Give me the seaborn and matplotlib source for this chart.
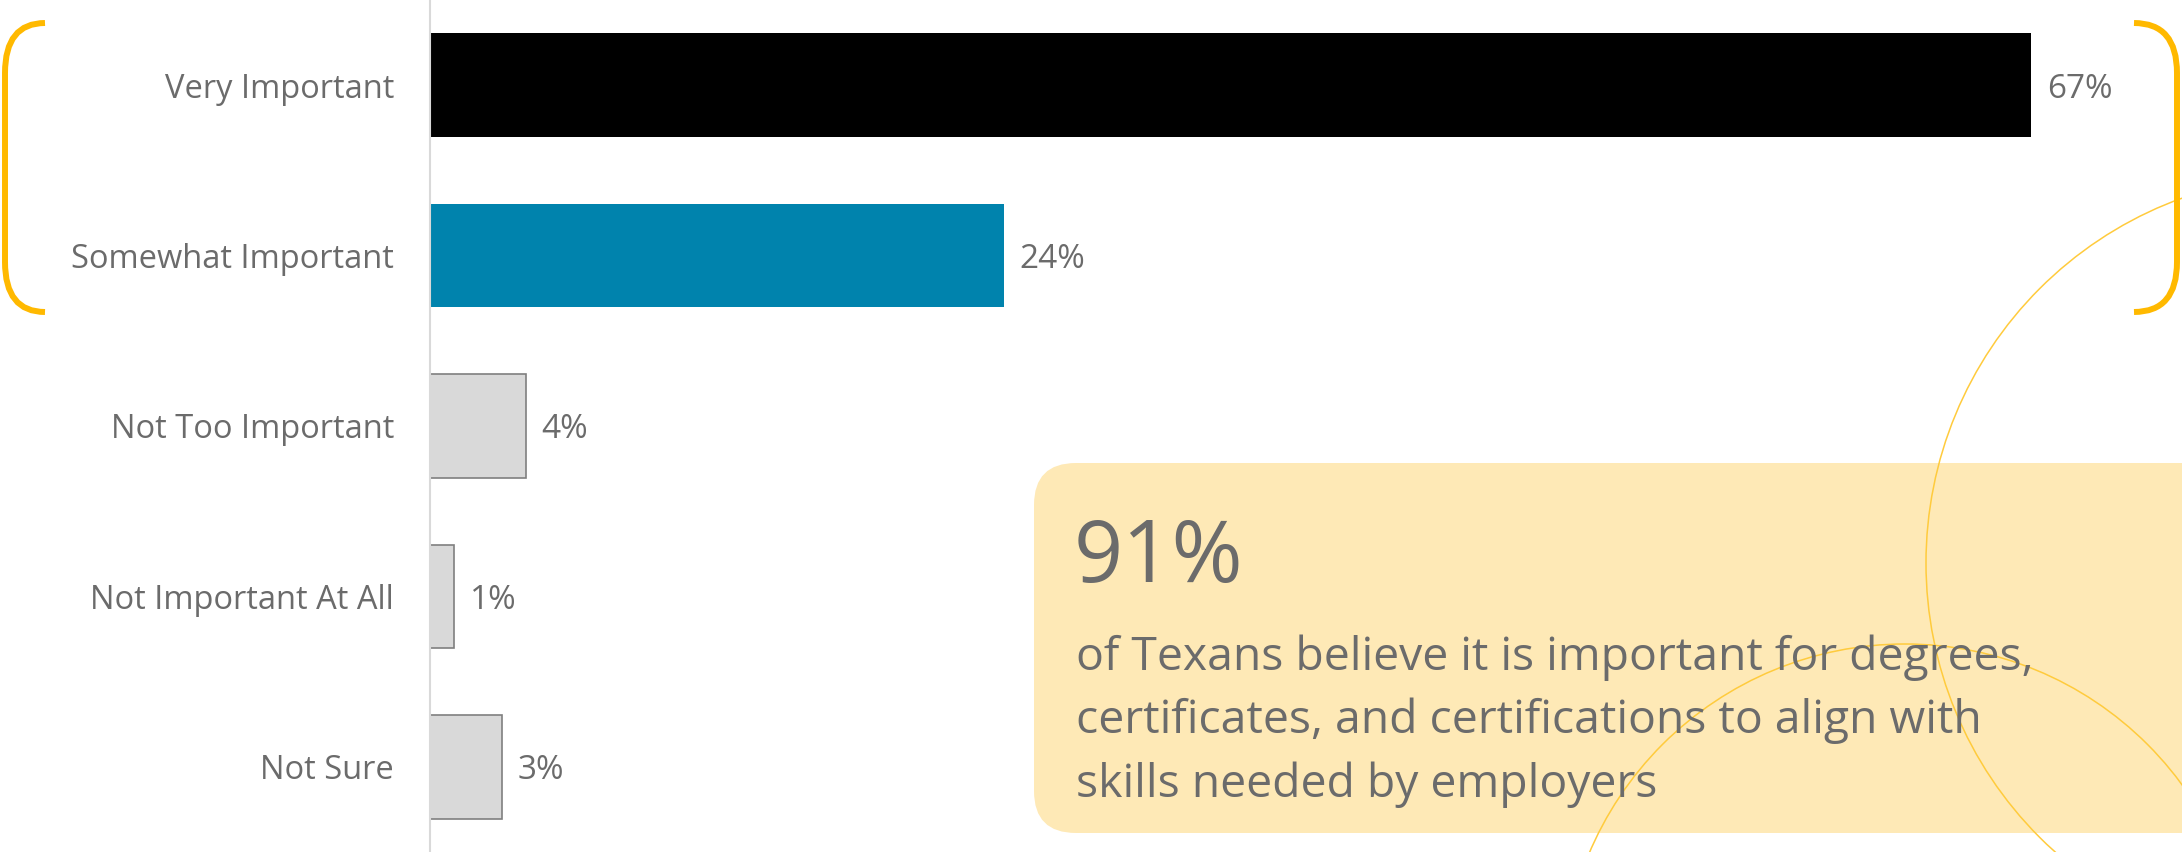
#!/usr/bin/env python3

import numpy as np
import pandas as pd
import matplotlib
matplotlib.use('Agg')
import matplotlib.pyplot as plt
from matplotlib.patches import FancyBboxPatch, Circle, PathPatch
from matplotlib.path import Path
import seaborn as sns

# data
categories = ['Very Important', 'Somewhat Important', 'Not Too Important',
              'Not Important At All', 'Not Sure']
values = [67, 24, 4, 1, 3]
bar_colors = ['#000000', '#0083AD', '#D9D9D9', '#D9D9D9', '#D9D9D9']
callout_big = '91%'
callout_lines = ['of Texans believe it is important for degrees,',
                 'certificates, and certifications to align with',
                 'skills needed by employers']

TEXT_GRAY = '#6b6b6b'
GOLD = '#FFB900'

sns.set_theme(style='white')
plt.rcParams['font.family'] = ['Open Sans', 'DejaVu Sans']

W, H = 2182, 852
fig = plt.figure(figsize=(W / 100, H / 100), dpi=100)
fig.patch.set_facecolor('white')

# main bar axes: left spine at x=430px, full height
ax = fig.add_axes([430 / W, 0, (W - 430) / W, 1])
df = pd.DataFrame({'cat': categories, 'val': values})
sns.barplot(data=df, x='val', y='cat', hue='cat', palette=bar_colors,
            legend=False, width=0.608, ax=ax, orient='h', saturation=1)

for patch, col in zip(ax.patches, bar_colors):
    if col == '#D9D9D9':
        patch.set_edgecolor('#7f7f7f')
        patch.set_linewidth(1.2)
    else:
        patch.set_edgecolor('none')

for cont in ax.containers:
    lbls = ax.bar_label(cont, labels=[f'{v:g}%' for v in cont.datavalues],
                        padding=11.5, fontsize=24, color=TEXT_GRAY)
    for t in lbls:
        t.set_va('center_baseline')

ax.set_xlim(0, 73.3)
ax.set_ylim(4.5, -0.5)
ax.set_xlabel('')
ax.set_ylabel('')
ax.set_xticks([])
ax.tick_params(axis='y', length=0, pad=26, labelsize=23.5, labelcolor=TEXT_GRAY)
for lab in ax.get_yticklabels():
    lab.set_va('center_baseline')
for s in ['top', 'right', 'bottom']:
    ax.spines[s].set_visible(False)
ax.spines['left'].set_color('#D9D9D9')
ax.spines['left'].set_linewidth(1.5)
ax.patch.set_alpha(0)

# overlay in pixel coordinates for decorations
ov = fig.add_axes([0, 0, 1, 1], zorder=5)
ov.set_xlim(0, W)
ov.set_ylim(H, 0)
ov.axis('off')
ov.patch.set_alpha(0)

box = FancyBboxPatch((1034, 463), 1300, 370,
                     boxstyle='round,pad=0,rounding_size=42',
                     facecolor='#FEE9B6', edgecolor='none', zorder=1)
ov.add_patch(box)

for c, r in [((2314, 563), 388), ((1905, 987), 343)]:
    ov.add_patch(Circle(c, r, fill=False, edgecolor='#FFCB3D',
                        linewidth=1.1, zorder=2))

ov.text(1074, 582, callout_big, fontsize=62, color=TEXT_GRAY,
        va='baseline', ha='left', zorder=3)
for i, line in enumerate(callout_lines):
    ov.text(1076, 670 + i * 63.5, line, fontsize=33.3, color=TEXT_GRAY,
            va='baseline', ha='left', zorder=3)


def bracket(x_end, x_line, y0, y1, rad):
    verts = [(x_end, y0), (x_line, y0), (x_line, y0 + rad),
             (x_line, y1 - rad), (x_line, y1), (x_end, y1)]
    codes = [Path.MOVETO, Path.CURVE3, Path.CURVE3,
             Path.LINETO, Path.CURVE3, Path.CURVE3]
    return PathPatch(Path(verts, codes), fill=False, edgecolor=GOLD,
                     linewidth=4.3, capstyle='butt', zorder=4)


ov.add_patch(bracket(45, 5, 23, 312, 50))
ov.add_patch(bracket(2134, 2177, 23, 312, 50))

fig.savefig('out.png', dpi=100)
